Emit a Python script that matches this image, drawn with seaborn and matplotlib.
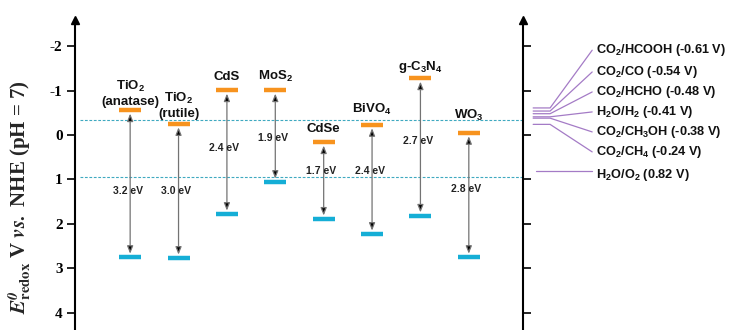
import pandas as pd
import matplotlib
matplotlib.use("Agg")
import matplotlib.pyplot as plt
import seaborn as sns

# ----------------------------
# Data
# ----------------------------
materials = ["TiO$_2$\n(anatase)", "TiO$_2$\n(rutile)", "CdS", "MoS$_2$",
             "CdSe", "BiVO$_4$", "g-C$_3$N$_4$", "WO$_3$"]
cb_edge = [-0.56, -0.25, -1.01, -1.01, 0.16, -0.23, -1.28, -0.05]
vb_edge = [2.75, 2.77, 1.78, 1.06, 1.89, 2.23, 1.82, 2.75]
band_gap = ["3.2 eV", "3.0 eV", "2.4 eV", "1.9 eV", "1.7 eV", "2.4 eV", "2.7 eV", "2.8 eV"]

couples = ["CO$_2$/HCOOH", "CO$_2$/CO", "CO$_2$/HCHO", "H$_2$O/H$_2$",
           "CO$_2$/CH$_3$OH", "CO$_2$/CH$_4$", "H$_2$O/O$_2$"]
potentials = [-0.61, -0.54, -0.48, -0.41, -0.38, -0.24, 0.82]
y_ticks = [-2, -1, 0, 1, 2, 3, 4]

# ----------------------------
# Layout (label placement only)
# ----------------------------
name_y = [-0.68, -0.41, -1.24, -1.24, -0.07, -0.50, -1.46, -0.36]
gap_y = [1.26, 1.26, 0.30, 0.07, 0.80, 0.80, 0.13, 1.22]
couple_label_y = [-1.91, -1.42, -0.97, -0.52, -0.07, 0.38, 0.90]
dashed_y = [-0.33, 0.94]

ORANGE = "#F7931E"
CYAN = "#15AED6"
PURPLE = "#A47BC6"
TEAL = "#3FA9C0"

sns.set_style("white")
plt.rcParams["font.family"] = ["Liberation Sans", "DejaVu Sans"]
plt.rcParams["axes.unicode_minus"] = False
plt.rcParams["mathtext.fontset"] = "custom"
plt.rcParams["mathtext.rm"] = "Liberation Sans:bold"
plt.rcParams["mathtext.it"] = "Liberation Sans:italic:bold"
plt.rcParams["mathtext.bf"] = "Liberation Sans:bold"

fig = plt.figure(figsize=(7.29, 3.30), dpi=100)
ax = fig.add_axes([75 / 729, 0, 448 / 729, 310 / 330])

df = pd.DataFrame({"pos": range(len(materials)), "cb": cb_edge, "vb": vb_edge})

# band edges
sns.scatterplot(data=df, x="pos", y="cb", marker="_", s=230, linewidth=3.2,
                color=ORANGE, ax=ax, zorder=4, legend=False)
sns.scatterplot(data=df, x="pos", y="vb", marker="_", s=230, linewidth=3.2,
                color=CYAN, ax=ax, zorder=4, legend=False)

# band gap arrows + labels
for i, row in df.iterrows():
    ax.annotate("", xy=(row["pos"], row["vb"]), xytext=(row["pos"], row["cb"]),
                arrowprops=dict(arrowstyle="<|-|>,head_length=0.45,head_width=0.18",
                                fc="black", ec="0.45", lw=0.9, shrinkA=2.5, shrinkB=2.5),
                zorder=3)
    ax.text(row["pos"] - 0.05, gap_y[i], band_gap[i], ha="center", va="center",
            fontsize=7.5, fontweight="bold", color="#222222", zorder=5)
    ax.text(row["pos"], name_y[i], materials[i], ha="center", va="baseline",
            fontsize=9.5, fontweight="bold", color="#111111", linespacing=1.15)

# reference potentials (dashed)
for y in dashed_y:
    ax.axhline(y, xmin=0.011, xmax=1, color=TEAL, lw=0.8, ls=(0, (2.5, 1.5)), zorder=1)

# right-side redox couples
stub_x0, stub_x1, line_end_x, label_x = 8.33, 8.68, 9.55, 9.62
for name, pot, ly in zip(couples, potentials, couple_label_y):
    if pot > 0:
        ax.plot([stub_x0 + 0.06, line_end_x], [pot, pot], color=PURPLE, lw=0.9, clip_on=False)
    else:
        ax.plot([stub_x0, stub_x1, line_end_x], [pot, pot, ly], color=PURPLE, lw=0.9,
                clip_on=False)
    ax.text(label_x, ly, f"{name} ({pot:.2f} V)", ha="left", va="center",
            fontsize=9.2, fontweight="bold", color="#111111", clip_on=False)

# axes styling
ax.set_xlim(-1.14, 8.12)
ax.set_ylim(4.39, -2.59)
ax.set_xticks([])
ax.set_xlabel("")
ax.set_yticks(y_ticks)
ax.set_yticklabels([str(t) for t in y_ticks])
for lab in ax.get_yticklabels():
    lab.set_fontfamily("Liberation Serif")
    lab.set_fontweight("bold")
ax.tick_params(axis="y", left=True, right=True, labelright=False, direction="out",
               length=6, width=1.2, pad=3, labelsize=11, colors="black")
for side in ["top", "bottom"]:
    ax.spines[side].set_visible(False)
for side in ["left", "right"]:
    ax.spines[side].set_visible(True)
    ax.spines[side].set_linewidth(1.5)
    ax.spines[side].set_color("black")
for xa in [0, 1]:
    ax.plot([xa], [1.0], marker="^", ms=6, color="black", transform=ax.transAxes,
            clip_on=False)

ax.set_ylabel(r"$\mathbfit{E}^{\mathbfit{0}}_{\mathbf{redox}}$ V $\mathbfit{vs.}$ NHE (pH = 7)",
              fontfamily="Liberation Serif", fontweight="bold", fontsize=15,
              math_fontfamily="stix")
ax.yaxis.set_label_coords(-0.094, 0.43)

fig.savefig("out.png", dpi=100)
